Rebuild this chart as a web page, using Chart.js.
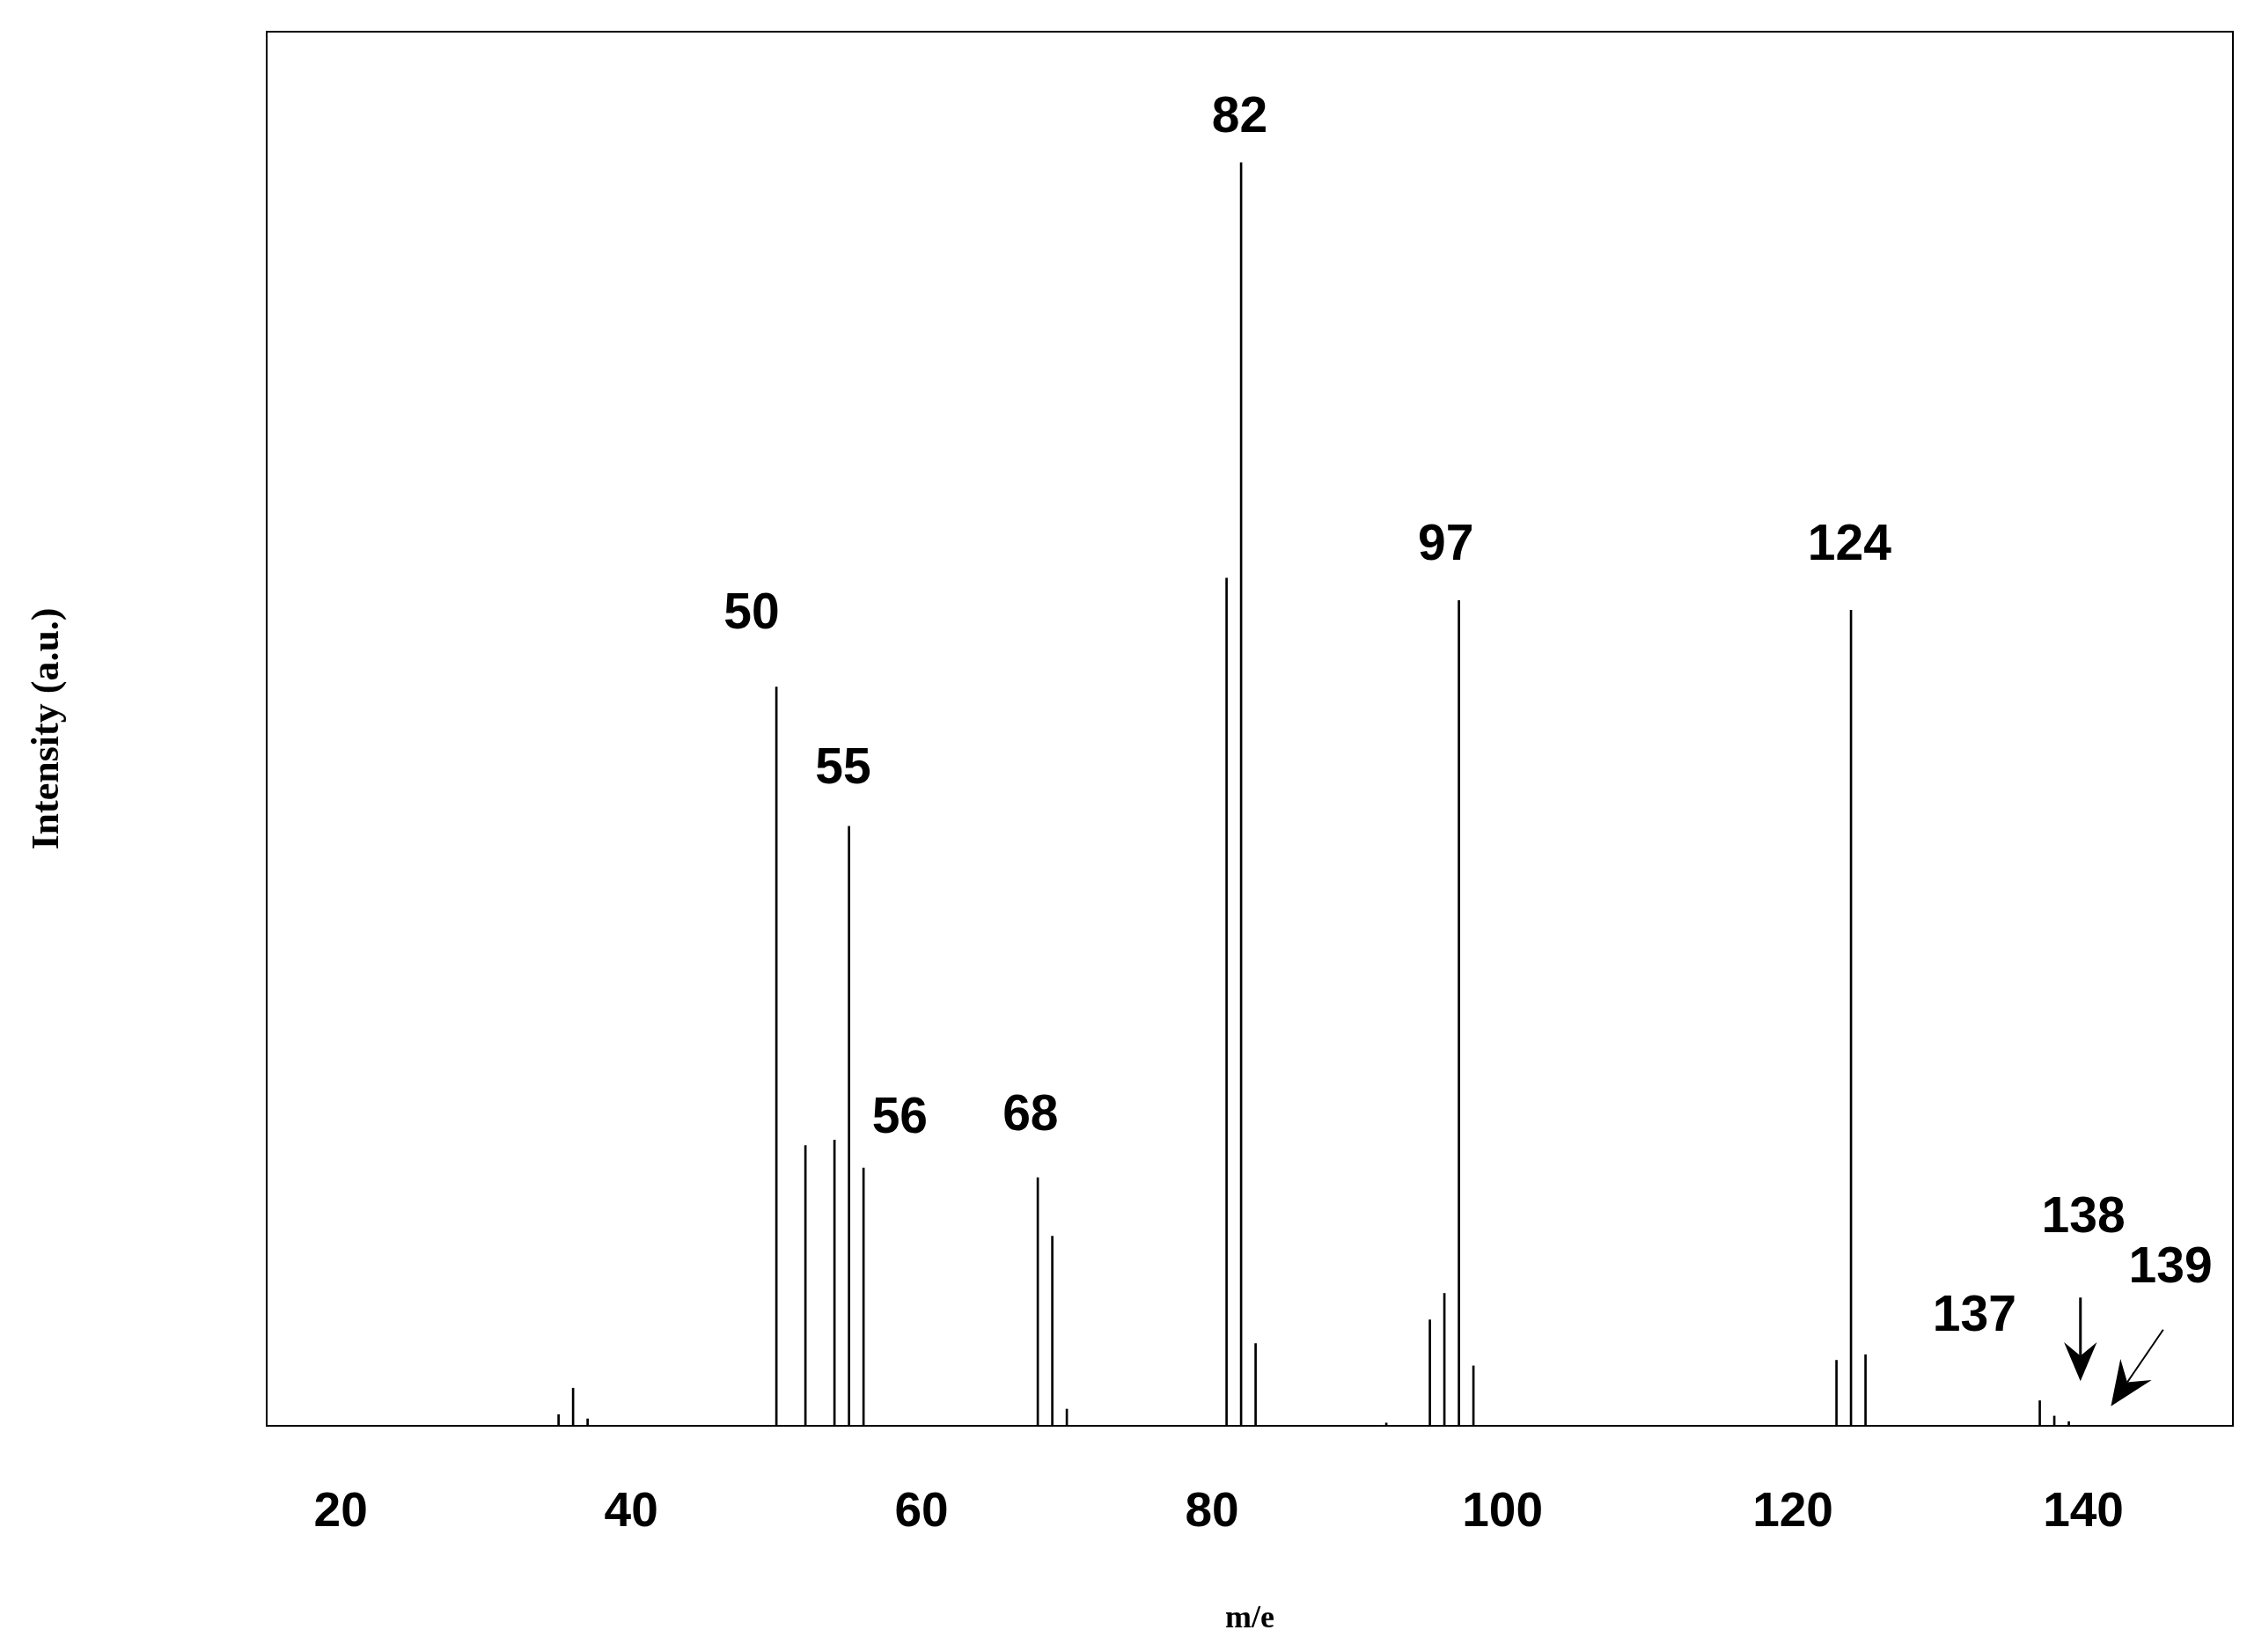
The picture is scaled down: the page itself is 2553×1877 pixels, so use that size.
<!DOCTYPE html>
<html>
<head>
<meta charset="utf-8">
<script src="https://cdn.jsdelivr.net/npm/chart.js@4.4.1/dist/chart.umd.min.js"></script>
<style>
  html, body { margin: 0; padding: 0; background: #fff; }
  #wrap { width: 2553px; height: 1877px; }
</style>
</head>
<body>
<div id="wrap"><canvas id="spectrum"></canvas></div>
<script>
// peak m/e values and relative intensities (% of axis height)
const masses = [35, 36, 37, 50, 52, 54, 55, 56, 68, 69, 70, 81, 82, 83, 92, 95, 96, 97, 98, 123, 124, 125, 137, 138, 139];
const intensities = [0.8, 2.7, 0.5, 53.0, 20.1, 20.5, 43.0, 18.5, 17.8, 13.6, 1.2, 60.8, 90.6, 5.9, 0.2, 7.6, 9.5, 59.2, 4.3, 4.7, 58.5, 5.1, 1.8, 0.7, 0.3];
const xTicks = [20, 40, 60, 80, 100, 120, 140];

// peak annotations: text and where it sits in data units
const labelText = ['50', '55', '56', '68', '82', '97', '124', '137', '138', '139'];
const labelX = [48.3, 54.6, 58.5, 67.5, 81.9, 96.1, 123.9, 132.5, 140.0, 146.0];
const labelY = [58.2, 47.1, 22.0, 22.2, 93.8, 63.1, 63.1, 7.8, 14.9, 11.3];

const points = masses.map((m, i) => ({ x: m, y: intensities[i] }));

const annotate = {
    id: 'annotate',
    afterDraw(chart) {
        const ctx = chart.ctx;
        const xs = chart.scales.x, ys = chart.scales.y;
        const a = chart.chartArea;
        ctx.save();
        ctx.strokeStyle = '#000';
        ctx.lineWidth = 2;
        ctx.strokeRect(a.left, a.top, a.right - a.left, a.bottom - a.top);

        ctx.fillStyle = '#000';
        ctx.font = 'bold 57px "Liberation Sans", Arial, sans-serif';
        ctx.textAlign = 'center';
        ctx.textBaseline = 'middle';
        labelText.forEach((t, i) => {
            ctx.fillText(t, xs.getPixelForValue(labelX[i]), ys.getPixelForValue(labelY[i]));
        });

        // arrows pointing at 138 and 139
        function arrow(x1, y1, x2, y2, w, head) {
            const px1 = xs.getPixelForValue(x1), py1 = ys.getPixelForValue(y1);
            const px2 = xs.getPixelForValue(x2), py2 = ys.getPixelForValue(y2);
            const ang = Math.atan2(py2 - py1, px2 - px1);
            ctx.lineWidth = w;
            ctx.beginPath();
            ctx.moveTo(px1, py1);
            ctx.lineTo(px2 - Math.cos(ang) * head * 0.6, py2 - Math.sin(ang) * head * 0.6);
            ctx.stroke();
            ctx.beginPath();
            ctx.moveTo(px2, py2);
            ctx.lineTo(px2 - head * Math.cos(ang - 0.4), py2 - head * Math.sin(ang - 0.4));
            ctx.lineTo(px2 - head * 0.6 * Math.cos(ang), py2 - head * 0.6 * Math.sin(ang));
            ctx.lineTo(px2 - head * Math.cos(ang + 0.4), py2 - head * Math.sin(ang + 0.4));
            ctx.closePath();
            ctx.fill();
        }
        arrow(139.8, 9.2, 139.8, 3.2, 3, 48);
        arrow(145.5, 6.9, 141.9, 1.4, 2, 55);
        ctx.restore();
    }
};

new Chart(document.getElementById('spectrum'), {
    type: 'bar',
    data: {
        datasets: [{
            data: points,
            backgroundColor: '#000',
            borderWidth: 0,
            barThickness: 2
        }]
    },
    options: {
        responsive: true,
        maintainAspectRatio: false,
        devicePixelRatio: 1,
        animation: false,
        layout: { padding: { top: 36, right: 16, left: 24, bottom: 12 } },
        plugins: { legend: { display: false }, tooltip: { enabled: false } },
        scales: {
            x: {
                type: 'linear',
                offset: false,
                min: 14.9,
                max: 150.3,
                afterBuildTicks(scale) {
                    scale.ticks = xTicks.map(v => ({ value: v }));
                },
                afterFit(scale) { scale.height = 245; },
                grid: { display: false, offset: false },
                border: { display: false },
                ticks: {
                    color: '#000',
                    padding: 58,
                    font: { family: '"Liberation Sans", Arial, sans-serif', size: 55, weight: 'bold' }
                },
                title: {
                    display: true,
                    text: 'm/e',
                    color: '#000',
                    font: { family: '"Liberation Serif", "Times New Roman", serif', size: 36, weight: 'bold' }
                }
            },
            y: {
                min: 0,
                max: 100,
                afterFit(scale) { scale.width = 279; },
                grid: { display: false },
                border: { display: false },
                ticks: { display: false },
                title: {
                    display: true,
                    text: 'Intensity (a.u.)',
                    color: '#000',
                    align: 'center',
                    font: { family: '"Liberation Serif", "Times New Roman", serif', size: 44, weight: 'bold' }
                }
            }
        }
    },
    plugins: [annotate]
});
</script>
</body>
</html>
